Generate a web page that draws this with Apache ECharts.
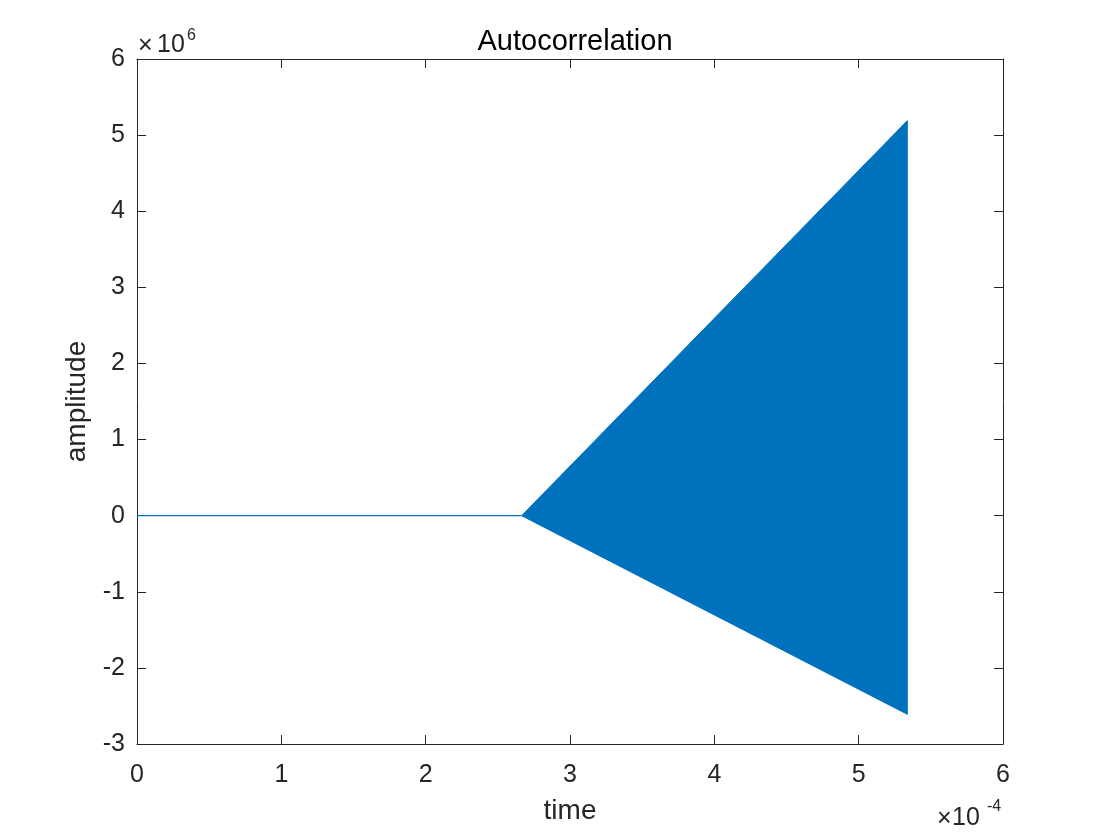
<!DOCTYPE html>
<html>
<head>
<meta charset="utf-8">
<script src="https://cdn.jsdelivr.net/npm/echarts@6/dist/echarts.min.js"></script>
<style>
html,body{margin:0;padding:0;background:#fff;}
#c{width:1109px;height:836px;}
</style>
</head>
<body>
<div id="c"></div>
<script>
// Data (time in seconds, amplitude)
var flatTime = [0, 2.665e-4];
var flatAmp = [0, 0];
var envTime = [2.665e-4, 5.337e-4];
var upperEnv = [0, 5.19e6];
var lowerEnv = [0, -2.61e6];
var xTicks = [0, 1, 2, 3, 4, 5, 6];             // ×10^-4
var yTicks = [-3, -2, -1, 0, 1, 2, 3, 4, 5, 6]; // ×10^6

var FONT = 'Liberation Sans, Arial, Helvetica, sans-serif';
var TXT = '#262626';
var BLUE = '#0072BD';
var SX = 1e-4, SY = 1e6;

function pairs(xs, ys) {
  return xs.map(function (x, i) { return [x / SX, ys[i] / SY]; });
}

// envelope rows: [time, upper, lower] in axis units
var envData = envTime.map(function (t, i) { return [t / SX, upperEnv[i] / SY, lowerEnv[i] / SY]; });

var chart = echarts.init(document.getElementById('c'), null, {renderer: 'canvas'});
var axisLine = {show: true, onZero: false, lineStyle: {color: TXT, width: 1}};
var tick = {show: true, inside: true, length: 9, lineStyle: {color: TXT, width: 1}};
var label = {color: TXT, fontSize: 25, fontFamily: FONT};

function txt(t, left, y, fs) {
  return {
    type: 'text', x: left, y: y,
    style: {text: t, fontSize: fs, fontFamily: FONT, fill: TXT, align: 'left', verticalAlign: 'middle'}
  };
}

chart.setOption({
  backgroundColor: '#fff',
  animation: false,
  title: {
    text: 'Autocorrelation',
    left: 570, top: 22, textAlign: 'center',
    textStyle: {fontSize: 29, fontWeight: 'normal', color: '#000', fontFamily: FONT}
  },
  grid: {left: 137, top: 59, width: 866, height: 685, containLabel: false},
  xAxis: [{
    type: 'value', min: xTicks[0], max: xTicks[xTicks.length - 1], interval: 1,
    axisLine: axisLine, axisTick: tick,
    axisLabel: Object.assign({margin: 19}, label),
    splitLine: {show: false},
    name: 'time', nameLocation: 'middle', nameGap: 53,
    nameTextStyle: {fontSize: 28, color: TXT, fontFamily: FONT}
  }, {
    type: 'value', min: xTicks[0], max: xTicks[xTicks.length - 1], interval: 1, position: 'top',
    axisLine: axisLine, axisTick: tick, axisLabel: {show: false}, splitLine: {show: false}
  }],
  yAxis: [{
    type: 'value', min: yTicks[0], max: yTicks[yTicks.length - 1], interval: 1,
    axisLine: axisLine, axisTick: tick,
    axisLabel: Object.assign({margin: 12}, label),
    splitLine: {show: false},
    name: 'amplitude', nameLocation: 'middle', nameGap: 46, nameRotate: 90,
    nameTextStyle: {fontSize: 28, color: TXT, fontFamily: FONT}
  }, {
    type: 'value', min: yTicks[0], max: yTicks[yTicks.length - 1], interval: 1, position: 'right',
    axisLine: axisLine, axisTick: tick, axisLabel: {show: false}, splitLine: {show: false}
  }],
  graphic: [
    txt('×', 138, 46, 25), txt('10', 157, 45, 25), txt('6', 187, 36, 16),
    txt('×', 937, 819, 25), txt('10', 952, 818, 25), txt('-4', 987, 807, 16)
  ],
  series: [{
    type: 'line', data: pairs(flatTime, flatAmp),
    showSymbol: false, lineStyle: {color: BLUE, width: 1.2}
  }, {
    type: 'custom',
    data: envData,
    encode: {x: 0, y: [1, 2]},
    renderItem: function (params, api) {
      if (params.dataIndex !== 0) return null;
      var up = [], lo = [];
      for (var i = 0; i < envData.length; i++) {
        up.push(api.coord([envData[i][0], envData[i][1]]));
        lo.unshift(api.coord([envData[i][0], envData[i][2]]));
      }
      return {
        type: 'polygon',
        shape: {points: up.concat(lo)},
        style: {fill: BLUE, stroke: BLUE, lineWidth: 1}
      };
    }
  }]
});
</script>
</body>
</html>
